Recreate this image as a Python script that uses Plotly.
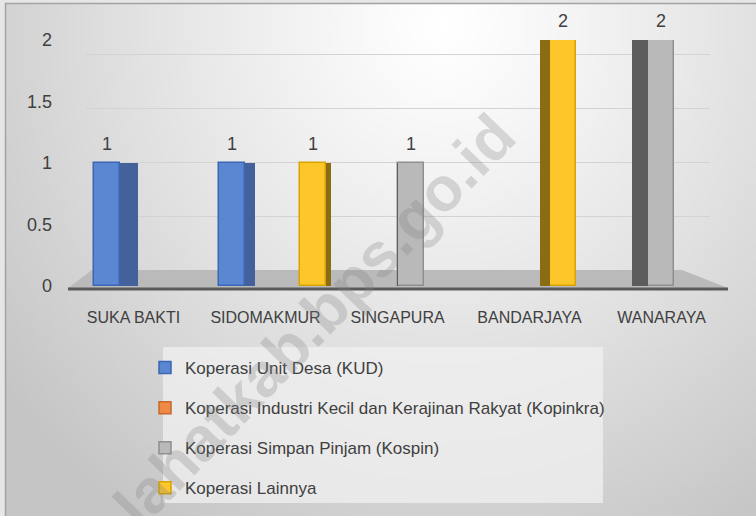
import base64, struct, zlib, math
import plotly.graph_objects as go

# ---------------- data ----------------
categories = ["SUKA BAKTI", "SIDOMAKMUR", "SINGAPURA", "BANDARJAYA", "WANARAYA"]
series_names = [
    "Koperasi Unit Desa (KUD)",
    "Koperasi Industri Kecil dan Kerajinan Rakyat (Kopinkra)",
    "Koperasi Simpan Pinjam (Kospin)",
    "Koperasi Lainnya",
]
kud = [1, 1, 0, 0, 0]
kopinkra = [0, 0, 0, 0, 0]
kospin = [0, 0, 1, 0, 2]
lainnya = [0, 1, 0, 2, 0]
y_ticks = [0, 0.5, 1, 1.5, 2]
y_tick_labels = ["0", "0.5", "1", "1.5", "2"]
watermark = "lahatkab.bps.go.id"

series_values = [kud, kopinkra, kospin, lainnya]
front_colors = ["#5b87d2", "#ef8a46", "#b9b9b9", "#fdc62a"]
edge_colors = ["#3b66b3", "#c8692b", "#8f8f8f", "#d9a300"]
side_colors = ["#43629b", "#b05a22", "#5d5d5d", "#8a6c12"]

# ---------------- geometry (pixels) ----------------
W_PX, H_PX = 756, 516
L, R, T, B = 85, 710, 40, 286
PW, PH = R - L, B - T
CAT_PX = PW / len(categories)
SLOT = 27 / CAT_PX  # slot width in category units
FONT = "Liberation Sans, Arial, sans-serif"
TXT = "#404040"
PERSP = 1.056  # front-edge label spread (3-D perspective)


def px_x(p):
    return (p - L) / PW


def px_y(p):
    return (B - p) / PH


# ---------------- background gradient image ----------------
def gradient_png(w, h):
    rows = []
    for j in range(h):
        yy = j * H_PX / h
        row = bytearray([0])
        for i in range(w):
            xx = i * W_PX / w
            d = math.sqrt(((xx - 440) / 560) ** 2 + ((yy - 20) / 600) ** 2)
            d = min(1.0, d)
            v = int(round(255 - 58 * d ** 1.15))
            row.append(v)
        rows.append(bytes(row))
    raw = b"".join(rows)

    def chunk(tag, data):
        c = struct.pack(">I", len(data)) + tag + data
        return c + struct.pack(">I", zlib.crc32(tag + data) & 0xFFFFFFFF)

    png = b"\x89PNG\r\n\x1a\n"
    png += chunk(b"IHDR", struct.pack(">IIBBBBB", w, h, 8, 0, 0, 0, 0))
    png += chunk(b"IDAT", zlib.compress(raw, 9))
    png += chunk(b"IEND", b"")
    return "data:image/png;base64," + base64.b64encode(png).decode()


fig = go.Figure()

# ---------------- bars (front faces + perspective side faces) ----------------
for k, (name, vals) in enumerate(zip(series_names, series_values)):
    xs = [i + (k - 1.5) * SLOT for i in range(len(categories))]
    ys = [v if v else None for v in vals]
    fig.add_trace(go.Bar(
        x=xs, y=ys, width=SLOT * 0.98, name=name,
        legendgroup=name, showlegend=True,
        marker=dict(color=front_colors[k], line=dict(color=edge_colors[k], width=1.5)),
        hoverinfo="x+y",
    ))
    # side face: width depends on horizontal distance from the viewpoint
    side_x, side_w = [], []
    for x in xs:
        xpx = L + (x + 0.5) * CAT_PX
        s_px = 0.06 * (400 - xpx)
        s_u = max(abs(s_px), 0.5) / CAT_PX
        sign = 1 if s_px >= 0 else -1
        side_x.append(x + sign * (SLOT * 0.49 + s_u / 2))
        side_w.append(s_u)
    fig.add_trace(go.Bar(
        x=side_x, y=ys, width=side_w, name=name,
        legendgroup=name, showlegend=False, hoverinfo="skip",
        marker=dict(color=side_colors[k], line=dict(width=0)),
    ))
    # data labels
    lx = [x for x, v in zip(xs, vals) if v]
    ly = [v for v in vals if v]
    fig.add_trace(go.Scatter(
        x=lx, y=ly, mode="markers+text", text=[str(v) for v in ly],
        textposition="top center", showlegend=False, hoverinfo="skip",
        legendgroup=name,
        marker=dict(size=12, color="rgba(0,0,0,0)"),
        textfont=dict(family=FONT, size=18, color=TXT),
        cliponaxis=False,
    ))

# empty trace to carry back-wall gridlines
fig.add_trace(go.Scatter(x=[], y=[], yaxis="y2", showlegend=False))

shapes = [
    # frame
    dict(type="rect", xref="paper", yref="paper", x0=px_x(5.5), x1=px_x(770),
         y0=px_y(3.5), y1=px_y(530), line=dict(color="#a3a3a3", width=1.5),
         layer="below"),
    # floor
    dict(type="path", xref="paper", yref="paper", layer="below",
         path="M {} {} L {} {} L {} {} L {} {} Z".format(
             px_x(68), px_y(288), px_x(728), px_y(288),
             px_x(682), px_y(270), px_x(92), px_y(270)),
         fillcolor="#bababa", line=dict(width=0)),
    # legend box
    dict(type="rect", xref="paper", yref="paper", layer="below",
         x0=px_x(163), x1=px_x(603), y0=px_y(347), y1=px_y(503),
         fillcolor="rgba(240,240,240,0.75)", line=dict(width=0)),
    # axis line
    dict(type="line", xref="paper", yref="paper", layer="above",
         x0=px_x(68), x1=px_x(728), y0=px_y(289), y1=px_y(289),
         line=dict(color="#5a5a5a", width=3)),
]

mid = (len(categories) - 1) / 2
fig.update_layout(
    width=W_PX, height=H_PX,
    margin=dict(l=L, r=W_PX - R, t=T, b=H_PX - B, pad=0, autoexpand=False),
    paper_bgcolor="#e6e6e6", plot_bgcolor="rgba(0,0,0,0)",
    barmode="overlay", bargap=0,
    font=dict(family=FONT, size=14, color=TXT),
    images=[dict(source=gradient_png(189, 129), xref="paper", yref="paper",
                 x=px_x(6), y=px_y(4), sizex=(W_PX - 6) / PW, sizey=(H_PX - 4) / PH,
                 xanchor="left", yanchor="top", sizing="stretch", layer="below")],
    shapes=shapes,
    xaxis=dict(range=[-0.5, len(categories) - 0.5],
               tickvals=[mid + (i - mid) * PERSP for i in range(len(categories))],
               ticktext=categories, showgrid=False, zeroline=False, showline=False,
               ticks="", ticklabelstandoff=20,
               tickfont=dict(family=FONT, size=16, color=TXT)),
    yaxis=dict(range=[0, 2], tickvals=y_ticks, ticktext=y_tick_labels, showgrid=False,
               zeroline=False, showline=False, ticks="", ticklabelstandoff=32,
               tickfont=dict(family=FONT, size=18, color=TXT)),
    yaxis2=dict(overlaying="y", range=[-0.148, 2.130], tickvals=y_ticks[1:],
                showticklabels=False, showgrid=True, gridcolor="#d3d3d3",
                gridwidth=1.2, zeroline=False, showline=False, ticks=""),
    legend=dict(x=px_x(145), y=px_y(350), xanchor="left", yanchor="top",
                bgcolor="rgba(0,0,0,0)", tracegroupgap=15,
                font=dict(family=FONT, size=17, color=TXT), traceorder="grouped"),
    annotations=[dict(text=watermark, xref="paper", yref="paper",
                      x=px_x(314), y=px_y(320), xanchor="center", yanchor="middle",
                      showarrow=False, textangle=-46,
                      font=dict(family=FONT, size=62, color="rgba(128,128,128,0.28)",
                                weight="bold"))],
    showlegend=True,
)

fig.write_html("out.html")
